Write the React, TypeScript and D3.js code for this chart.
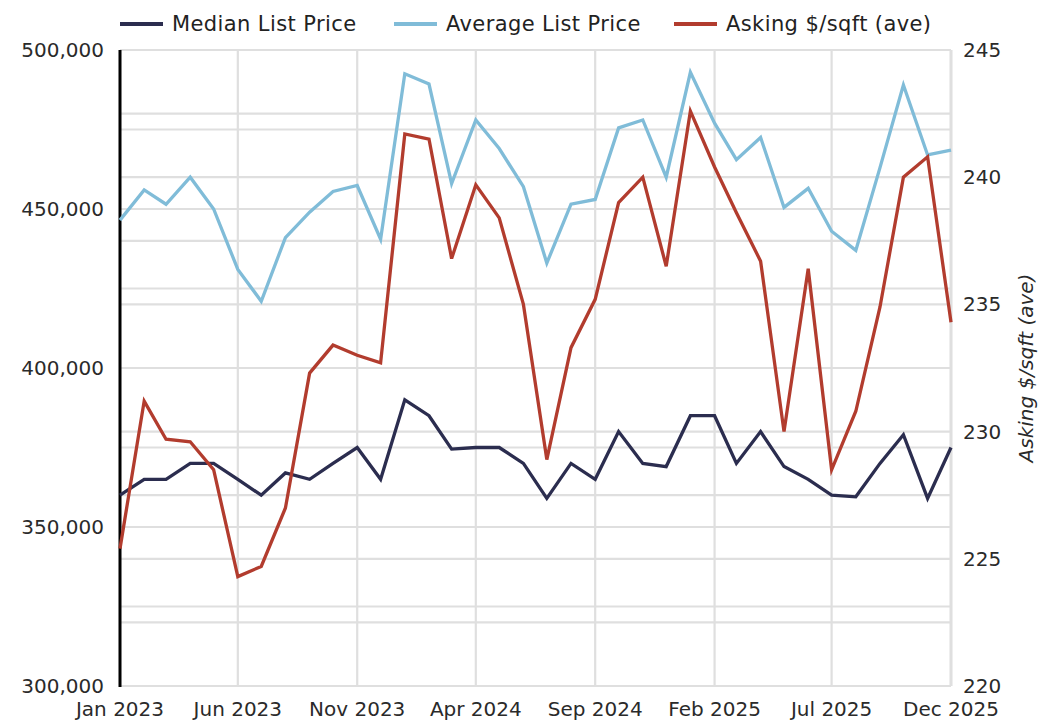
import React from 'react';
import * as d3 from 'd3';

// Monthly categories Jan 2023 .. Dec 2025
const months: Date[] = d3.timeMonth.range(new Date(2023, 0, 1), new Date(2026, 0, 1));

const medianListPrice = [
  360000, 365000, 365000, 370000, 370000, 365000, 360000, 367000, 365000, 370000, 375000, 365000,
  390000, 385000, 374500, 375000, 375000, 370000, 359000, 370000, 365000, 380000, 370000, 369000,
  385000, 385000, 370000, 380000, 369000, 365000, 360000, 359500, 370000, 379000, 359000, 375000,
];

const averageListPrice = [
  446500, 456000, 451500, 460000, 450000, 431000, 421000, 441000, 449000, 455500, 457400, 440500,
  492500, 489300, 458000, 478000, 469000, 457000, 433000, 451500, 453000, 475500, 478000, 460000,
  493000, 477000, 465500, 472500, 450500, 456500, 443000, 437000, 463000, 489000, 467000, 468500,
];

const askingPerSqft = [
  225.4, 231.2, 229.7, 229.6, 228.5, 224.3, 224.7, 227.0, 232.3, 233.4, 233.0, 232.7,
  241.7, 241.5, 236.8, 239.7, 238.4, 235.0, 228.9, 233.3, 235.2, 239.0, 240.0, 236.5,
  242.6, 240.4, 238.6, 236.7, 230.0, 236.4, 228.5, 230.8, 234.9, 240.0, 240.8, 234.3,
];

const leftTicks = [300000, 350000, 400000, 450000, 500000];
const rightTicks = [220, 225, 230, 235, 240, 245];

const width = 1056;
const height = 727;
const margin = { top: 50, right: 105, bottom: 41, left: 120 };

const COLORS = {
  median: '#2b2d4f',
  average: '#80bcd8',
  asking: '#b23c2e',
};

const FONT = '"DejaVu Sans", sans-serif';

const App = () => {
  const x = d3
    .scaleTime()
    .domain([months[0], months[months.length - 1]])
    .range([margin.left, width - margin.right]);

  const yLeft = d3
    .scaleLinear()
    .domain([300000, 500000])
    .range([height - margin.bottom, margin.top]);

  const yRight = d3
    .scaleLinear()
    .domain([220, 245])
    .range([height - margin.bottom, margin.top]);

  const xTicks = months.filter((_, i) => i % 5 === 0);
  const fmtMonth = d3.timeFormat('%b %Y');
  const fmtLeft = d3.format(',');

  // grid from both axes: 25k steps on the left, 2.5 steps on the right
  const leftGrid = d3.range(300000, 500001, 25000);
  const rightGrid = d3.range(220, 245.01, 2.5);

  const lineLeft = d3
    .line<number>()
    .x((_, i) => x(months[i]))
    .y(d => yLeft(d));
  const lineRight = d3
    .line<number>()
    .x((_, i) => x(months[i]))
    .y(d => yRight(d));

  const x0 = margin.left;
  const x1 = width - margin.right;
  const yTop = margin.top;
  const yBot = height - margin.bottom;

  const legend = [
    { label: 'Median List Price', color: COLORS.median, x: 120 },
    { label: 'Average List Price', color: COLORS.average, x: 394 },
    { label: 'Asking $/sqft (ave)', color: COLORS.asking, x: 674 },
  ];

  return (
    <svg
      width={width}
      height={height}
      style={{ position: 'absolute', left: 0, top: 0, background: '#fff' }}
      fontFamily={FONT}
    >
      {/* gridlines */}
      <g stroke="#dfdfdf" strokeWidth={2.2}>
        {leftGrid.map(v => (
          <line key={'l' + v} x1={x0} x2={x1} y1={yLeft(v)} y2={yLeft(v)} />
        ))}
        {rightGrid.map(v => (
          <line key={'r' + v} x1={x0} x2={x1} y1={yRight(v)} y2={yRight(v)} />
        ))}
        {xTicks.map(d => (
          <line key={+d} x1={x(d)} x2={x(d)} y1={yTop} y2={yBot} />
        ))}
        <line x1={x1} x2={x1} y1={yTop} y2={yBot} strokeWidth={3} />
      </g>

      {/* left axis line */}
      <line x1={x0} x2={x0} y1={yTop} y2={yBot + 1} stroke="#000" strokeWidth={3} />

      {/* series */}
      <path d={lineLeft(medianListPrice) || ''} fill="none" stroke={COLORS.median} strokeWidth={3.3} strokeLinejoin="miter" />
      <path d={lineLeft(averageListPrice) || ''} fill="none" stroke={COLORS.average} strokeWidth={3.3} strokeLinejoin="miter" />
      <path d={lineRight(askingPerSqft) || ''} fill="none" stroke={COLORS.asking} strokeWidth={3.3} strokeLinejoin="miter" />

      {/* left tick labels */}
      <g fontSize={20} fill="#2a2a2a" textAnchor="end">
        {leftTicks.map(v => (
          <text key={v} x={104} y={yLeft(v)} dy="0.35em">
            {fmtLeft(v)}
          </text>
        ))}
      </g>

      {/* right tick labels */}
      <g fontSize={20} fill="#2a2a2a" textAnchor="start">
        {rightTicks.map(v => (
          <text key={v} x={963} y={yRight(v)} dy="0.35em">
            {v}
          </text>
        ))}
      </g>

      {/* x tick labels */}
      <g fontSize={20} fill="#2a2a2a" textAnchor="middle">
        {xTicks.map(d => (
          <text key={+d} x={x(d)} y={716}>
            {fmtMonth(d)}
          </text>
        ))}
      </g>

      {/* right axis title */}
      <text
        transform={`translate(1033,${(yTop + yBot) / 2}) rotate(-90)`}
        textAnchor="middle"
        fontSize={20}
        fontStyle="italic"
        fill="#2a2a2a"
      >
        Asking $/sqft (ave)
      </text>

      {/* legend */}
      <g>
        {legend.map(l => (
          <g key={l.label}>
            <line x1={l.x} x2={l.x + 43} y1={24} y2={24} stroke={l.color} strokeWidth={4} />
            <text x={l.x + 52} y={31} fontSize={21} letterSpacing={0.4} fill="#222">
              {l.label}
            </text>
          </g>
        ))}
      </g>
    </svg>
  );
};

export default App;
